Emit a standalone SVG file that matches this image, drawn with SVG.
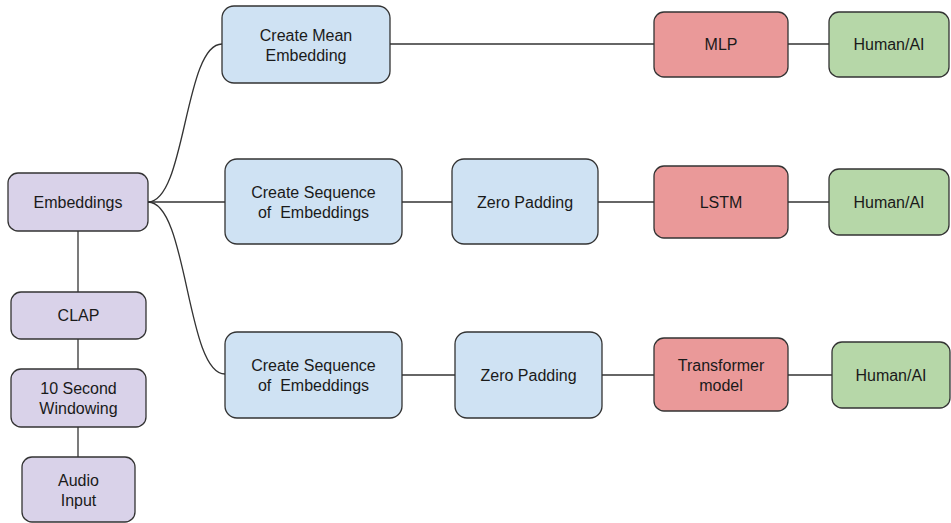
<svg xmlns="http://www.w3.org/2000/svg" width="951" height="523" viewBox="0 0 951 523">
  <style>
    .box { stroke: #333333; stroke-width: 1.3; }
    .purple { fill: #d9d2e9; }
    .blue { fill: #cfe2f3; }
    .red { fill: #ea9999; }
    .green { fill: #b6d7a8; }
    .lbl { font-family: "Liberation Sans", Arial, sans-serif; font-size: 16px; fill: #1a1a1a; text-anchor: middle; white-space: pre; }
    .edge { fill: none; stroke: #333333; stroke-width: 1.3; }
  </style>
  <rect width="951" height="523" fill="#ffffff"/>

  <g id="connectors">
    <path class="edge" d="M148,202 C186,202 184,44 222,44"/>
    <path class="edge" d="M148,202 H225"/>
    <path class="edge" d="M148,202 C188,202 186,374 225,374"/>
    <path class="edge" d="M390,44 H654"/>
    <path class="edge" d="M788,44 H829"/>
    <path class="edge" d="M402,202 H452"/>
    <path class="edge" d="M598,202 H654"/>
    <path class="edge" d="M788,202 H829"/>
    <path class="edge" d="M402,375 H455"/>
    <path class="edge" d="M602,375 H654"/>
    <path class="edge" d="M788,375 H832"/>
    <path class="edge" d="M78,231 V292"/>
    <path class="edge" d="M78,339 V369"/>
    <path class="edge" d="M78,427 V457"/>
  </g>

  <g id="embeddings">
    <rect class="box purple" x="8" y="173" width="140" height="58" rx="10"/>
    <text class="lbl" x="78" y="208">Embeddings</text>
  </g>
  <g id="clap">
    <rect class="box purple" x="11" y="292" width="135" height="47" rx="10"/>
    <text class="lbl" x="78.5" y="321">CLAP</text>
  </g>
  <g id="windowing">
    <rect class="box purple" x="11" y="369" width="135" height="58" rx="10"/>
    <text class="lbl" x="78.5" y="394">10 Second</text>
    <text class="lbl" x="78.5" y="414">Windowing</text>
  </g>
  <g id="audio-input">
    <rect class="box purple" x="22" y="457" width="113" height="65" rx="10"/>
    <text class="lbl" x="78.5" y="486">Audio</text>
    <text class="lbl" x="78.5" y="506">Input</text>
  </g>

  <g id="mean-embedding">
    <rect class="box blue" x="222" y="6" width="168" height="77" rx="12"/>
    <text class="lbl" x="306" y="41">Create Mean</text>
    <text class="lbl" x="306" y="61">Embedding</text>
  </g>
  <g id="mlp">
    <rect class="box red" x="654" y="12" width="134" height="65" rx="10"/>
    <text class="lbl" x="721" y="50">MLP</text>
  </g>
  <g id="human-ai-1">
    <rect class="box green" x="829" y="12" width="120" height="65" rx="10"/>
    <text class="lbl" x="889" y="50">Human/AI</text>
  </g>

  <g id="sequence-lstm">
    <rect class="box blue" x="225" y="159" width="177" height="85" rx="12"/>
    <text class="lbl" x="313.5" y="198">Create Sequence</text>
    <text class="lbl" x="313.5" y="218" xml:space="preserve">of  Embeddings</text>
  </g>
  <g id="padding-lstm">
    <rect class="box blue" x="452" y="159" width="146" height="85" rx="12"/>
    <text class="lbl" x="525" y="208">Zero Padding</text>
  </g>
  <g id="lstm">
    <rect class="box red" x="654" y="166" width="134" height="72" rx="10"/>
    <text class="lbl" x="721" y="208">LSTM</text>
  </g>
  <g id="human-ai-2">
    <rect class="box green" x="829" y="169" width="120" height="66" rx="10"/>
    <text class="lbl" x="889" y="208">Human/AI</text>
  </g>

  <g id="sequence-transformer">
    <rect class="box blue" x="225" y="332" width="177" height="86" rx="12"/>
    <text class="lbl" x="313.5" y="371">Create Sequence</text>
    <text class="lbl" x="313.5" y="391" xml:space="preserve">of  Embeddings</text>
  </g>
  <g id="padding-transformer">
    <rect class="box blue" x="455" y="332" width="147" height="86" rx="12"/>
    <text class="lbl" x="528.5" y="381">Zero Padding</text>
  </g>
  <g id="transformer">
    <rect class="box red" x="654" y="338" width="134" height="73" rx="10"/>
    <text class="lbl" x="721" y="371">Transformer</text>
    <text class="lbl" x="721" y="391">model</text>
  </g>
  <g id="human-ai-3">
    <rect class="box green" x="832" y="342" width="118" height="66" rx="10"/>
    <text class="lbl" x="891" y="381">Human/AI</text>
  </g>
</svg>
